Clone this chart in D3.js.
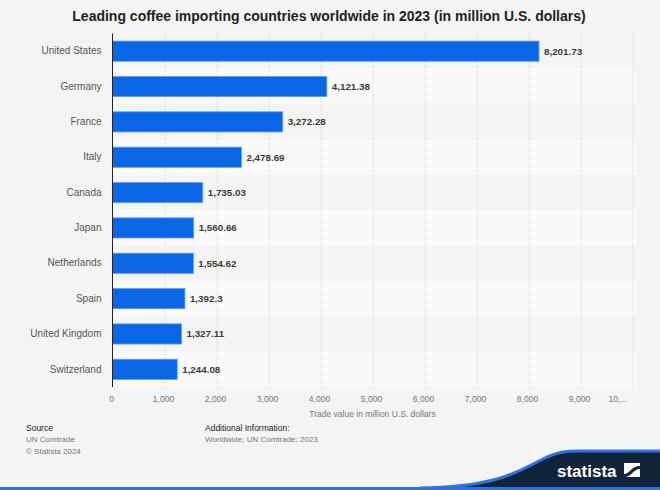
<!DOCTYPE html>
<html lang="en">
<head>
<meta charset="UTF-8">
<title>Leading coffee importing countries</title>
<style>
  body { margin: 0; background: #f4f4f4; }
  svg { display: block; font-family: "Liberation Sans", Arial, sans-serif; }
  .grid line { stroke: #d6d6d6; stroke-dasharray: 2,2; }
  .grid path { display: none; }
  .xaxis path, .xaxis line { display: none; }
  .xaxis text { fill: #777; font-size: 8.5px; }
  .yaxis path, .yaxis line { display: none; }
  .yaxis text { fill: #555; font-size: 10px; }
  .bar { fill: #0a66e4; stroke: #5f9cf0; stroke-width: 0.8px; }
  .val { fill: #3a3a3a; font-size: 9.8px; font-weight: bold; }
</style>
</head>
<body>
<script src="https://cdn.jsdelivr.net/npm/d3@7"></script>
<script>
var countries = ["United States", "Germany", "France", "Italy", "Canada", "Japan",
                 "Netherlands", "Spain", "United Kingdom", "Switzerland"];
var values = [8201.73, 4121.38, 3272.28, 2478.69, 1735.03, 1560.66, 1554.62, 1392.3, 1327.11, 1244.08];
var tickValues = [0, 1000, 2000, 3000, 4000, 5000, 6000, 7000, 8000, 9000, 10000];
var tickLabels = ["0", "1,000", "2,000", "3,000", "4,000", "5,000", "6,000", "7,000", "8,000", "9,000", "10,..."];

var W = 660, H = 490;
var margin = { top: 33.5, right: 26, bottom: 103, left: 112.5 };
var width = W - margin.left - margin.right,
    height = H - margin.top - margin.bottom;

var svg = d3.select("body").append("svg")
    .attr("width", W)
    .attr("height", H);

svg.append("rect").attr("width", W).attr("height", H).attr("fill", "#f4f4f4");

svg.append("text")
    .attr("x", W / 2 - 1).attr("y", 21)
    .attr("text-anchor", "middle")
    .attr("font-size", "14px")
    .attr("font-weight", "bold")
    .attr("fill", "#222")
    .text("Leading coffee importing countries worldwide in 2023 (in million U.S. dollars)");

var g = svg.append("g")
    .attr("transform", "translate(" + margin.left + "," + margin.top + ")");

var x = d3.scaleLinear().domain([0, 10000]).range([0, 520]);
var y = d3.scaleBand().domain(countries).range([0, height]).paddingInner(0.43).paddingOuter(0.215);
var yRow = d3.scaleBand().domain(countries).range([0, height]);

// alternating row stripes
g.selectAll(".row").data(countries).enter().append("rect")
    .attr("x", 0)
    .attr("y", function(d) { return yRow(d); })
    .attr("width", x(10000) + 4)
    .attr("height", yRow.bandwidth())
    .attr("fill", function(d, i) { return i % 2 ? "#fafafa" : "#f4f4f4"; });

g.append("g")
    .attr("class", "grid")
    .call(d3.axisBottom(x).tickValues(tickValues.slice(1)).tickSize(height).tickFormat(""));

g.selectAll(".bar").data(values).enter().append("rect")
    .attr("class", "bar")
    .attr("x", 0)
    .attr("y", function(d, i) { return y(countries[i]); })
    .attr("width", function(d) { return x(d); })
    .attr("height", y.bandwidth());

g.selectAll(".val").data(values).enter().append("text")
    .attr("class", "val")
    .attr("x", function(d) { return x(d) + 5; })
    .attr("y", function(d, i) { return y(countries[i]) + y.bandwidth() / 2; })
    .attr("dy", "0.35em")
    .text(function(d) { return d3.format(",")(d); });

g.append("line")
    .attr("x1", 0).attr("x2", 0)
    .attr("y1", 0).attr("y2", height)
    .attr("stroke", "#222").attr("stroke-width", 1);

g.append("g")
    .attr("class", "yaxis")
    .call(d3.axisLeft(yRow).tickSize(0).tickPadding(11));

var xa = g.append("g")
    .attr("class", "xaxis")
    .attr("transform", "translate(-1.5," + height + ")")
    .call(d3.axisBottom(x).tickValues(tickValues).tickSize(0).tickPadding(9)
        .tickFormat(function(d, i) { return tickLabels[i]; }));
// last label is cut short and sits left of its tick
xa.selectAll(".tick").filter(function(d) { return d === 10000; })
    .select("text").attr("text-anchor", "end").attr("dx", "-4");

g.append("text")
    .attr("x", x(5000)).attr("y", height + 30)
    .attr("text-anchor", "middle")
    .attr("font-size", "8.5px")
    .attr("fill", "#777")
    .text("Trade value in million U.S. dollars");

// footer
var foot = svg.append("g").attr("font-size", "8px");
foot.append("text").attr("x", 26).attr("y", 431).attr("fill", "#222").attr("font-size", "8.5px").text("Source");
foot.append("text").attr("x", 26).attr("y", 442).attr("fill", "#777").text("UN Comtrade");
foot.append("text").attr("x", 26).attr("y", 454).attr("fill", "#777").text("\u00a9 Statista 2024");
foot.append("text").attr("x", 205).attr("y", 431).attr("fill", "#222").attr("font-size", "8.5px").text("Additional Information:");
foot.append("text").attr("x", 205).attr("y", 442).attr("fill", "#777").text("Worldwide; UN Comtrade; 2023");

// statista badge
svg.append("path")
    .attr("d", "M420,490 L420,488 C500,487 520,470 545,458 C558,452 565,451 580,451 L660,451 L660,490 Z")
    .attr("fill", "#0f2339");
svg.append("path")
    .attr("d", "M420,488 C500,487 520,470 545,458 C558,452 565,451 580,451 L660,451")
    .attr("fill", "none").attr("stroke", "#2f73dc").attr("stroke-width", 3);
svg.append("rect").attr("x", 0).attr("y", 487).attr("width", W).attr("height", 3).attr("fill", "#2f73dc");
svg.append("text")
    .attr("x", 557).attr("y", 477)
    .attr("fill", "#fff").attr("font-size", "17px").attr("font-weight", "bold")
    .attr("font-family", "'Liberation Sans Narrow', 'Liberation Sans', sans-serif")
    .text("statista");
svg.append("rect").attr("x", 624).attr("y", 463).attr("width", 16).attr("height", 14).attr("fill", "#fff");
svg.append("path")
    .attr("d", "M624,474 C630,474 631,466 640,466 L640,469 C633,469 632,477 624,477 Z")
    .attr("fill", "#0f2339");
</script>
</body>
</html>
